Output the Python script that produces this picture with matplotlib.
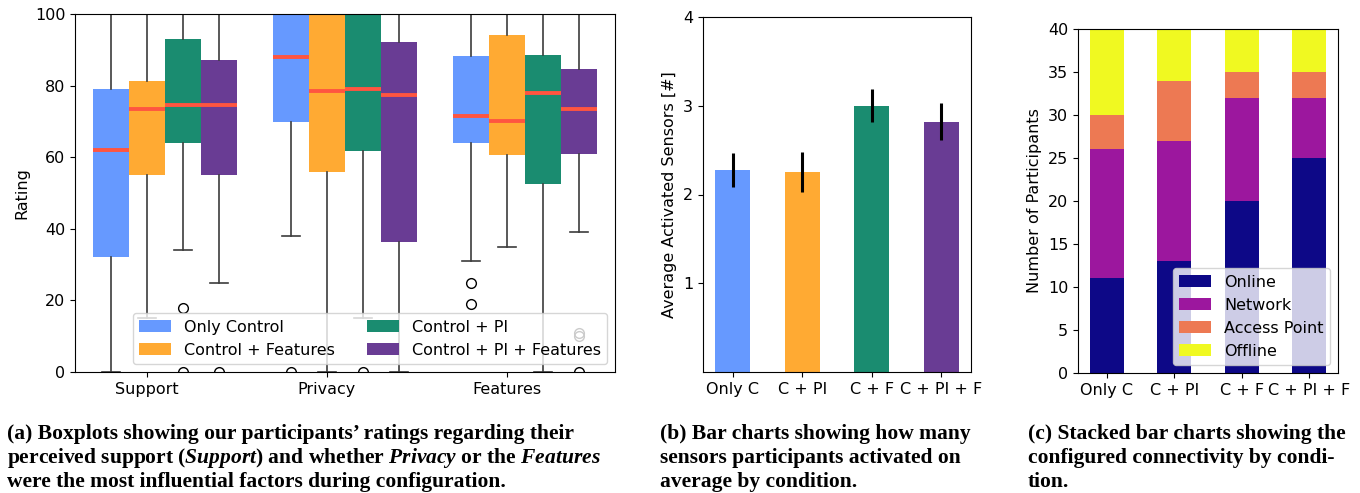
import numpy as np
import matplotlib
matplotlib.use("Agg")
import matplotlib.pyplot as plt
from matplotlib.patches import Patch

# ---- data ----
conditions = ["Only Control", "Control + Features", "Control + PI", "Control + PI + Features"]
short_conditions = ["Only C", "C + PI", "C + F", "C + PI + F"]
colors = ["#6699ff", "#ffaa33", "#1a8c70", "#693c94"]
dimensions = ["Support", "Privacy", "Features"]

# box statistics per dimension, one entry per condition
q1 = {"Support": [32, 55, 64, 55],
      "Privacy": [69.7, 56, 61.6, 36.2],
      "Features": [64, 60.5, 52.4, 61]}
med = {"Support": [62, 73.5, 74.5, 74.5],
       "Privacy": [88, 78.5, 79, 77.5],
       "Features": [71.5, 70, 78, 73.5]}
q3 = {"Support": [79, 81.3, 93, 87.2],
      "Privacy": [100, 100, 100, 92.2],
      "Features": [88.2, 94.1, 88.6, 84.7]}
whislo = {"Support": [0, 15, 34, 25],
          "Privacy": [38, 0, 15, 0],
          "Features": [31, 35, 0, 39]}
whishi = {"Support": [100, 100, 100, 100],
          "Privacy": [100, 100, 100, 100],
          "Features": [100, 100, 100, 100]}
fliers = {"Support": [[], [], [18, 0], [0]],
          "Privacy": [[0], [], [0], []],
          "Features": [[25, 19], [], [], [11, 10, 0]]}

sensors_mean = [2.28, 2.25, 3.0, 2.82]
sensors_err = [0.19, 0.225, 0.185, 0.21]

conn_labels = ["Online", "Network", "Access Point", "Offline"]
conn_counts = {"Online": [11, 13, 20, 25],
               "Network": [15, 14, 12, 7],
               "Access Point": [4, 7, 3, 3],
               "Offline": [10, 6, 5, 5]}
conn_colors = ["#0d0887", "#9c179e", "#ed7953", "#f0f921"]

plt.rcParams["font.size"] = 11.5
plt.rcParams["mathtext.fontset"] = "custom"
plt.rcParams["mathtext.rm"] = "Liberation Serif:bold"
plt.rcParams["mathtext.it"] = "Liberation Serif:bold:italic"
plt.rcParams["mathtext.bf"] = "Liberation Serif:bold"

fig = plt.figure(figsize=(13.6, 4.93), dpi=100)
W, H = 1360, 493

def px_axes(l, t, r, b):
    return fig.add_axes([l / W, 1 - b / H, (r - l) / W, (b - t) / H])

# ---- (a) boxplots ----
ax1 = px_axes(75, 14, 615, 372)
offsets = [-0.2, 0.0, 0.2, 0.4]
for gi, dim in enumerate(dimensions):
    for ci in range(4):
        stats = [{"q1": q1[dim][ci], "med": med[dim][ci], "q3": q3[dim][ci],
                  "whislo": whislo[dim][ci], "whishi": whishi[dim][ci],
                  "fliers": fliers[dim][ci]}]
        ax1.bxp(stats, positions=[gi + 1 + offsets[ci]], widths=0.2,
                patch_artist=True, manage_ticks=False,
                boxprops=dict(facecolor=colors[ci], edgecolor="none"),
                medianprops=dict(color="#ff5540", linewidth=2.8),
                whiskerprops=dict(color="#3c3c3c", linewidth=1.2),
                capprops=dict(color="#3c3c3c", linewidth=1.2),
                flierprops=dict(marker="o", markerfacecolor="none",
                                markeredgecolor="black", markersize=7))
ax1.set_xlim(0.6, 3.6)
ax1.set_ylim(0, 100)
ax1.set_xticks([1, 2, 3])
ax1.set_xticklabels(dimensions)
ax1.set_ylabel("Rating")
handles = [Patch(facecolor=c, label=l) for c, l in zip(colors, conditions)]
ax1.legend(handles=handles, loc="lower right", ncol=2)

# ---- (b) activated sensors ----
ax2 = px_axes(703, 17, 971, 372)
xb = np.arange(len(short_conditions))
ax2.bar(xb, sensors_mean, width=0.5, color=colors)
ax2.errorbar(xb, sensors_mean, yerr=sensors_err, fmt="none", ecolor="black",
             elinewidth=2.2)
ax2.set_xticks(xb)
ax2.set_xticklabels(short_conditions)
ax2.set_ylim(0, 4)
ax2.set_yticks([1, 2, 3, 4])
ax2.set_ylabel("Average Activated Sensors [#]")

# ---- (c) connectivity ----
ax3 = px_axes(1078, 29, 1338, 373)
bottom = np.zeros(len(short_conditions))
for lab, col in zip(conn_labels, conn_colors):
    vals = np.array(conn_counts[lab])
    ax3.bar(xb, vals, width=0.5, bottom=bottom, color=col, label=lab)
    bottom += vals
ax3.set_xticks(xb)
ax3.set_xticklabels(short_conditions)
ax3.set_ylim(0, 40)
ax3.set_yticks(np.arange(0, 41, 5))
ax3.set_ylabel("Number of Participants")
ax3.legend(loc="lower right")

# ---- captions ----
cap_kw = dict(fontsize=15.5, fontweight="bold", family="Liberation Serif",
              va="baseline", ha="left")
cap_a = ["(a) Boxplots showing our participants\u2019 ratings regarding their",
         r"perceived support ($\mathit{Support}$) and whether $\mathit{Privacy}$ or the $\mathit{Features}$",
         "were the most influential factors during configuration."]
cap_b = ["(b) Bar charts showing how many",
         "sensors participants activated on",
         "average by condition."]
cap_c = ["(c) Stacked bar charts showing the",
         "configured connectivity by condi-",
         "tion."]
line_y = [439, 463, 487]
for x0, lines in [(7, cap_a), (660, cap_b), (1028, cap_c)]:
    for y0, txt in zip(line_y, lines):
        fig.text(x0 / W, 1 - y0 / H, txt, **cap_kw)

fig.savefig("out.png", dpi=100)
